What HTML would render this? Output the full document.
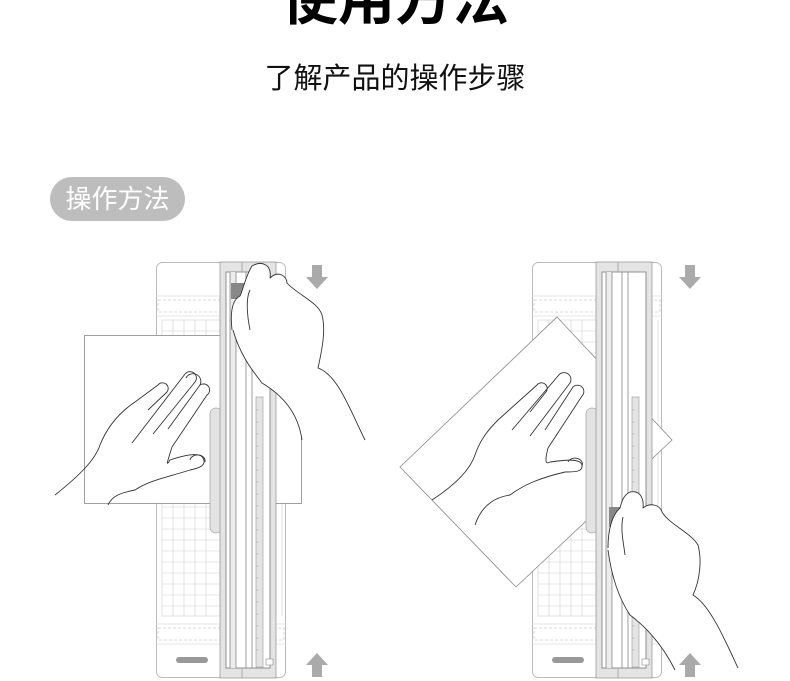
<!DOCTYPE html>
<html><head><meta charset="utf-8"><style>
html,body{margin:0;padding:0;background:#fff;width:790px;height:681px;overflow:hidden}
body{position:relative;font-family:"Liberation Sans","Noto Sans CJK SC",sans-serif}
.t1{position:absolute;left:0;width:790px;top:-30px;text-align:center;font-size:57px;font-weight:bold;color:#000;line-height:60px}
.t2{position:absolute;left:0;width:790px;top:61px;text-align:center;font-size:29px;color:#111;line-height:36px}
.pill{position:absolute;left:50px;top:177px;width:135px;height:44px;border-radius:22px;background:#bdbdbd;color:#fff;font-size:26px;line-height:44px;text-align:center}
svg{position:absolute;left:0;top:0}
</style></head><body>
<div class="t1">使用方法</div>
<div class="t2">了解产品的操作步骤</div>
<div class="pill">操作方法</div>
<svg width="790" height="681" viewBox="0 0 790 681">
<defs>
<g id="base">
 <rect x="0.5" y="0.5" width="129" height="415" rx="6" fill="#fff" stroke="#bbb"/>
 <line x1="0" y1="34" x2="130" y2="34" stroke="#ddd" stroke-width="0.8"/>
 <rect x="2" y="38" width="126" height="12" fill="none" stroke="#ccc" stroke-dasharray="3 2" stroke-width="0.8"/>
 <line x1="0" y1="54" x2="130" y2="54" stroke="#ddd" stroke-width="0.8"/>
 <g stroke="#d0d0d0" stroke-width="0.6" fill="none">
  <rect x="6" y="58" width="58" height="296"/>
  <path d="M17 58V354M28 58V354M39 58V354M50 58V354M6 69H64M6 80H64M6 91H64M6 102H64M6 113H64M6 124H64M6 135H64M6 146H64M6 157H64M6 168H64M6 179H64M6 190H64M6 201H64M6 212H64M6 223H64M6 234H64M6 245H64M6 256H64M6 267H64M6 278H64M6 289H64M6 300H64M6 311H64M6 322H64M6 333H64M6 344H64"/>
  <path d="M120 58V354M126 58V354"/>
 </g>
 <line x1="0" y1="362" x2="130" y2="362" stroke="#ddd" stroke-width="0.8"/>
 <rect x="2" y="366" width="126" height="12" fill="none" stroke="#ccc" stroke-dasharray="3 2" stroke-width="0.8"/>
 <line x1="0" y1="382" x2="130" y2="382" stroke="#ddd" stroke-width="0.8"/>
 <rect x="20" y="395" width="32" height="6" rx="3" fill="#999"/>
</g>
<g id="rail">
 <rect x="54" y="146" width="12" height="125" rx="6" fill="#e3e3e3" stroke="#aaa" stroke-width="0.8"/>
 <rect x="64" y="0" width="56" height="416" fill="#e4e4e4" stroke="#999" stroke-width="0.8"/>
 <rect x="70" y="10" width="44" height="396" fill="#fff" stroke="#777" stroke-width="0.8"/>
 <rect x="74" y="10" width="6" height="396" fill="#ececec" stroke="none"/>
 <path d="M74 10V406M80 10V406M90 10V406M96 10V406" stroke="#777" stroke-width="0.7"/>
 <rect x="100" y="135" width="7" height="270" fill="#e4e4e4" stroke="#999" stroke-width="0.6"/>
 <path d="M100 148h3M100 160h3M100 172h3M100 184h3M100 196h3M100 208h3M100 220h3M100 232h3M100 244h3M100 256h3M100 268h3M100 280h3M100 292h3M100 304h3M100 316h3M100 328h3M100 340h3M100 352h3M100 364h3M100 376h3M100 388h3" stroke="#999" stroke-width="0.6"/>
 <line x1="86" y1="0" x2="86" y2="10" stroke="#aaa"/>
 <line x1="86" y1="406" x2="86" y2="416" stroke="#aaa"/>
 <rect x="110" y="397" width="7" height="6" fill="#fff" stroke="#888" stroke-width="0.6"/>
</g>
<g id="ad"><path d="M-5 0h10v12h6l-11 12-11-12h6z" fill="#aaa"/></g>
<g id="au"><path d="M-5 24h10v-12h6l-11-12-11 12h6z" fill="#aaa"/></g>
</defs>

<!-- LEFT -->
<g transform="translate(156,262)"><use href="#base"/></g>
<rect x="84.5" y="335.5" width="217" height="168" fill="#fff" stroke="#888" stroke-width="0.8"/>
<g transform="translate(156,262)"><use href="#rail"/></g>
<path d="M231 283 h18 l2 16 h-20z" fill="#888"/>
<path d="M232 330 C230 312 232 300 240 296 C243 290 246 275 252 266 C262 260 272 265 270 278 C278 270 287 276 287 283 C298 295 318 302 322 315 C326 330 322 350 318 368 C338 375 350 410 365 440 L302 440 C298 412 282 395 262 383 C252 370 240 355 233 330 Z" fill="#fff"/>
<g fill="none" stroke="#333" stroke-width="0.9" stroke-linejoin="round">
 <path d="M55 495 C80 475 95 460 100 445 C108 425 120 412 135 402 L158 385 A5 5 0 0 1 167 392 L148 410"/>
 <path d="M132 443 L185 374 A6 6 0 0 1 195 382 L153 434"/>
 <path d="M168 429 L200 385 A6 6 0 0 1 207 395 L172 447"/>
 <path d="M186 378 A6 6 0 0 1 200 385"/>
 <path d="M172 447 C168 460 165 468 170 460 C185 455 200 452 203 458 C207 465 200 468 190 470 C165 478 150 480 135 490 C120 493 112 496 108 505"/>
 <path d="M190 460 A5 4 0 0 1 205 462"/>
 <path d="M232 330 C230 312 232 300 240 296 C243 290 246 275 252 266 C262 260 272 265 270 278 C278 270 287 276 287 283 C298 295 318 302 322 315 C326 330 322 350 318 368 C338 375 350 410 365 440"/>
 <path d="M233 330 C240 355 252 370 262 383 C282 395 298 412 302 440"/>
 <path d="M250 290 C245 300 248 320 250 330"/>
</g>
<use href="#ad" x="317" y="265"/>
<use href="#au" x="317" y="653"/>

<!-- RIGHT -->
<g transform="translate(532,262)"><use href="#base"/></g>
<path d="M557 317 L672 440 L516 587 L400 467 Z" fill="#fff" stroke="#888" stroke-width="0.8"/>
<g transform="translate(532,262)"><use href="#rail"/></g>
<path d="M609 507 h20 v20 h-20z" fill="#888"/>
<path d="M608 548 C608 530 612 515 620 508 C622 500 624 495 630 492 C640 490 644 498 643 508 C650 502 660 505 662 512 C670 525 690 532 698 545 C702 560 700 580 693 595 C710 605 725 640 738 668 L675 670 C665 650 650 630 630 615 C620 600 612 580 608 550 Z" fill="#fff"/>
<g fill="none" stroke="#333" stroke-width="0.9" stroke-linejoin="round">
 <path d="M432 500 C455 485 470 470 475 455 C480 440 488 430 498 420 L537 385 A5 5 0 0 1 546 392 L530 412"/>
 <path d="M512 430 L558 376 A6 6 0 0 1 570 383 L530 436"/>
 <path d="M545 430 L573 387 A6 6 0 0 1 582 396 L548 448"/>
 <path d="M548 448 C545 460 545 465 550 462 C565 460 580 458 582 465 C583 472 575 472 565 472 C540 478 525 484 510 495 C490 498 480 510 475 525"/>
 <path d="M568 462 A5 4 0 0 1 582 466"/>
 <path d="M608 548 C608 530 612 515 620 508 C622 500 624 495 630 492 C640 490 644 498 643 508 C650 502 660 505 662 512 C670 525 690 532 698 545 C702 560 700 580 693 595 C710 605 725 640 738 668"/>
 <path d="M608 550 C612 580 620 600 630 615 C650 630 665 650 675 670"/>
 <path d="M623 517 C620 530 624 545 625 555"/>
</g>
<use href="#ad" x="690" y="265"/>
<use href="#au" x="690" y="653"/>
</svg>
</body></html>
